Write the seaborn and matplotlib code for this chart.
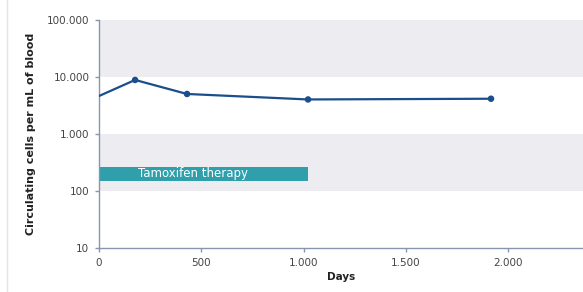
import matplotlib
matplotlib.use("Agg")
import matplotlib.pyplot as plt
import matplotlib.ticker as mticker
from matplotlib.lines import Line2D
import seaborn as sns
import pandas as pd

days = [0, 176, 430, 1022, 1917]
cells = [4640, 8860, 5030, 4030, 4150]
marked = [False, True, True, True, True]
therapy_start, therapy_end = 0, 1020
therapy_low, therapy_high = 150, 265
y_ticks = [10, 100, 1000, 10000, 100000]
x_ticks = [0, 500, 1000, 1500, 2000]

df = pd.DataFrame({"Days": days, "cells": cells, "marked": marked})

sns.set_style("white")
plt.rcParams['font.family'] = ['DejaVu Sans']

fig = plt.figure(figsize=(5.83, 2.92), dpi=100)
ax = fig.add_axes([0.17, 0.1507, 0.83, 0.781])

ax.set_yscale("log")
ax.set_ylim(10, 100000)
ax.set_xlim(0, 2367)

band = "#ededf1"
ax.axhspan(10000, 100000, color=band, lw=0, zorder=0)
ax.axhspan(100, 1000, color=band, lw=0, zorder=0)

ax.fill_between([therapy_start, therapy_end], therapy_low, therapy_high,
                color="#2e9fab", lw=0, zorder=2)
ax.text(190, 200, "Tamoxifen therapy", color="white", fontsize=8.5,
        va="center", ha="left", zorder=3)

sns.lineplot(data=df, x="Days", y="cells", color="#1a4e8c", lw=1.6, ax=ax, zorder=4)
sns.scatterplot(data=df[df["marked"]], x="Days", y="cells", color="#1a4e8c",
                s=22, edgecolor="none", ax=ax, zorder=5)

fmt = mticker.FuncFormatter(lambda v, p: f"{int(v):,}".replace(",", "."))
ax.set_yticks(y_ticks)
ax.yaxis.set_major_formatter(fmt)
ax.yaxis.set_minor_locator(mticker.NullLocator())
ax.set_xticks(x_ticks)
ax.xaxis.set_major_formatter(fmt)

for s in ["top", "right"]:
    ax.spines[s].set_visible(False)
for s in ["left", "bottom"]:
    ax.spines[s].set_color("#8896ad")
    ax.spines[s].set_linewidth(1.0)
ax.tick_params(axis="both", which="major", length=3, width=1, color="#8896ad",
               labelsize=7.5, labelcolor="#444444", pad=4, direction="out",
               left=True, bottom=True)

ax.set_xlabel("Days", fontsize=7.5, fontweight="bold", color="#222222", labelpad=3)
ax.set_ylabel("Circulating cells per mL of blood", fontsize=8, fontweight="bold",
              color="#222222", labelpad=8)

fig.add_artist(Line2D([7 / 583, 7 / 583], [0, 1], color="#e2e4ea", lw=1,
                      transform=fig.transFigure))

fig.savefig("out.png", dpi=100)
